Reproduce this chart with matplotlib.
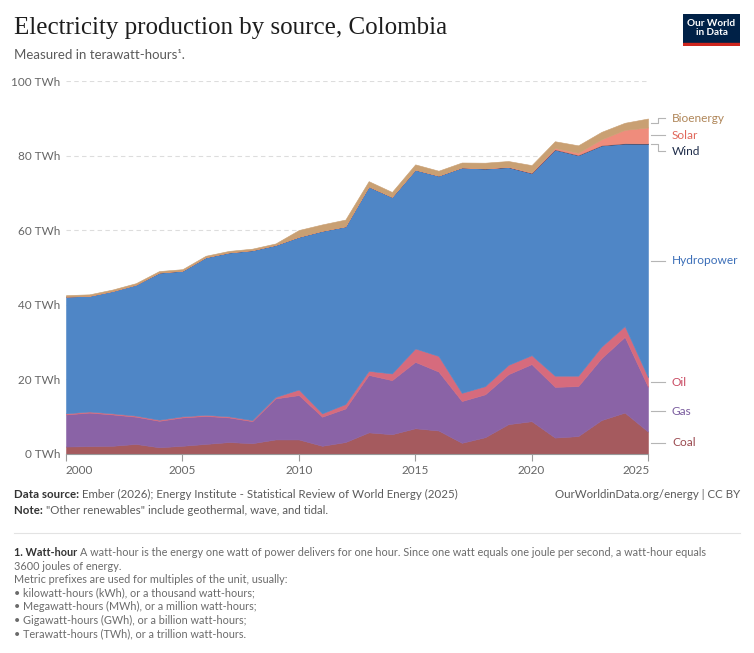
import matplotlib
matplotlib.use("Agg")
import matplotlib.pyplot as plt
import numpy as np
from matplotlib.transforms import ScaledTranslation

# ---------------- data (TWh) ----------------
years = list(range(2000, 2026))
coal = [2.0, 2.1, 2.2, 2.7, 1.8, 2.2, 2.7, 3.2, 2.9, 3.9, 3.9, 2.2, 3.2,
        5.8, 5.3, 6.9, 6.3, 3.0, 4.5, 8.0, 8.8, 4.4, 4.8, 9.1, 11.1, 6.0]
gas = [8.6, 9.0, 8.4, 7.3, 7.1, 7.6, 7.5, 6.6, 5.9, 11.0, 11.9, 7.8, 9.0,
       15.4, 14.5, 17.8, 15.8, 11.2, 11.5, 13.4, 15.3, 13.6, 13.4, 16.6, 20.3, 12.0]
oil = [0.3, 0.3, 0.3, 0.3, 0.3, 0.3, 0.3, 0.3, 0.3, 0.4, 1.5, 0.9, 1.2,
       1.1, 1.8, 3.6, 4.2, 2.2, 2.2, 2.5, 2.4, 3.0, 2.8, 3.1, 2.9, 2.6]
hydro = [31.3, 31.0, 32.8, 35.1, 39.4, 39.0, 42.2, 43.9, 45.5, 40.7, 40.9, 48.9, 47.6,
         49.4, 47.3, 47.9, 48.3, 60.4, 58.3, 53.0, 48.8, 60.6, 59.1, 53.9, 48.9, 62.5]
wind = [0.0, 0.0, 0.0, 0.0, 0.05, 0.05, 0.05, 0.05, 0.05, 0.05, 0.05, 0.05, 0.05,
        0.05, 0.05, 0.05, 0.05, 0.05, 0.05, 0.05, 0.05, 0.05, 0.05, 0.07, 0.1, 0.15]
solar = [0, 0, 0, 0, 0, 0, 0, 0, 0, 0, 0, 0, 0,
         0, 0, 0, 0, 0, 0.05, 0.1, 0.2, 0.4, 0.6, 1.6, 3.6, 4.3]
bioenergy = [0.4, 0.4, 0.4, 0.4, 0.4, 0.4, 0.4, 0.4, 0.4, 0.4, 1.8, 1.7, 1.8,
             1.4, 1.3, 1.4, 1.3, 1.3, 1.5, 1.5, 1.9, 1.8, 2.0, 2.0, 1.9, 2.4]

series_names = ["Coal", "Gas", "Oil", "Hydropower", "Wind", "Solar", "Bioenergy"]
series_values = [coal, gas, oil, hydro, wind, solar, bioenergy]
fill_colors = ["#a55a5e", "#8a63a6", "#d66b7d", "#4f86c6", "#2b3f63", "#ef8c7c", "#c9a073"]
label_colors = ["#9a4a50", "#7a5c9e", "#c94a62", "#3c6fb8", "#1f2d4a", "#e0675a", "#b0875a"]

y_ticks = [0, 20, 40, 60, 80, 100]
y_tick_labels = ["0 TWh", "20 TWh", "40 TWh", "60 TWh", "80 TWh", "100 TWh"]
x_ticks = [2000, 2005, 2010, 2015, 2020, 2025]

# ---------------- figure ----------------
W, H = 754, 653
fig = plt.figure(figsize=(W / 100, H / 100), dpi=100)
plt.rcParams['font.family'] = ['Lato', 'DejaVu Sans']

def fx(x):
    return x / W

def fy(y):
    return 1 - y / H

ax_left, ax_right, ax_top, ax_bottom = 66, 648, 81, 454
ax = fig.add_axes([fx(ax_left), fy(ax_bottom), fx(ax_right - ax_left), (ax_bottom - ax_top) / H])

ax.stackplot(years, *series_values, colors=fill_colors, linewidth=0.4,
             edgecolor="face")
ax.set_xlim(2000, 2025)
ax.set_ylim(0, 100)

for s in ["top", "right", "left"]:
    ax.spines[s].set_visible(False)
ax.spines["bottom"].set_color("#999999")
ax.spines["bottom"].set_linewidth(0.8)

tick_fs = 8.5
ax.set_yticks(y_ticks)
ax.set_yticklabels(y_tick_labels)
ax.tick_params(axis="y", length=0, pad=4, labelsize=tick_fs, labelcolor="#666666")
for t in y_ticks[1:]:
    ax.axhline(t, color="#dddddd", lw=0.8, ls=(0, (4, 3)), zorder=0)
ax.set_axisbelow(True)

ax.set_xticks(x_ticks)
ax.set_xticklabels([str(x) for x in x_ticks])
ax.tick_params(axis="x", length=5, width=0.8, color="#999999", pad=3,
               labelsize=tick_fs, labelcolor="#666666")
ax.get_xticklabels()[0].set_horizontalalignment("left")
ax.get_xticklabels()[-1].set_horizontalalignment("right")
lbl0 = ax.get_xticklabels()[0]
lbl0.set_transform(lbl0.get_transform() + ScaledTranslation(0.0, 0, fig.dpi_scale_trans))
lblN = ax.get_xticklabels()[-1]
lblN.set_transform(lblN.get_transform() + ScaledTranslation(0.02, 0, fig.dpi_scale_trans))

# ---------------- right-hand labels ----------------
last = [v[-1] for v in series_values]
cum = np.cumsum(last)
mids = cum - np.array(last) / 2
label_y = list(mids)
gap = 4.3
label_y[6] = max(label_y[6], cum[-1])
for i in [5, 4]:
    label_y[i] = min(label_y[i], label_y[i + 1] - gap)
label_y[1] -= 0.6

xl = 2025 + (672 - 648) / ((648 - 66) / 25)
for i, name in enumerate(series_names):
    ys, yl = mids[i], label_y[i]
    x0, x1, x2 = 2025.15, 2025.45, 2025.75
    if i >= 4:
        ax.plot([x0, x1, x1, x2], [ys, ys, yl, yl], color="#b5b5b5", lw=0.8, clip_on=False)
    else:
        ax.plot([x0, x2], [yl, yl], color="#b5b5b5", lw=0.8, clip_on=False)
    ax.text(xl, yl, name, color=label_colors[i], fontsize=8.6, va="center",
            ha="left", clip_on=False)

# ---------------- header ----------------
fig.text(fx(14), fy(28), "Electricity production by source, Colombia",
         family=["Liberation Serif", "DejaVu Serif"], fontsize=18, color="#1d1d1d",
         va="center", ha="left")
fig.text(fx(14), fy(55), "Measured in terawatt-hours¹.", fontsize=9.5,
         color="#5b5b5b", va="center", ha="left")

# logo
logo = fig.add_axes([fx(683), fy(46), fx(57), 32 / H])
logo.set_xlim(0, 1); logo.set_ylim(0, 1); logo.axis("off")
logo.add_patch(plt.Rectangle((0, 0.08), 1, 0.92, color="#002147"))
logo.add_patch(plt.Rectangle((0, 0), 1, 0.08, color="#ce261e"))
logo.text(0.5, 0.56, "Our World\nin Data", color="white", fontsize=7.2,
          fontweight="bold", ha="center", va="center", linespacing=0.95)

# ---------------- footer ----------------
fs = 8.3
gray = "#5b5b5b"
dark = "#333333"
t = fig.text(fx(14), fy(494), "Data source: ", fontsize=fs, color=dark,
             fontweight="bold", va="center", ha="left")
fig.canvas.draw()
r = fig.canvas.get_renderer()
bb = t.get_window_extent(r)
fig.text(bb.x1 / W, fy(494), "Ember (2026); Energy Institute - Statistical Review of World Energy (2025)",
         fontsize=fs, color=gray, va="center", ha="left")
fig.text(fx(740), fy(494), "OurWorldinData.org/energy | CC BY", fontsize=fs,
         color=gray, va="center", ha="right")
t2 = fig.text(fx(14), fy(511), "Note: ", fontsize=fs, color=dark, fontweight="bold",
              va="center", ha="left")
bb2 = t2.get_window_extent(r)
fig.text(bb2.x1 / W, fy(511), "\"Other renewables\" include geothermal, wave, and tidal.",
         fontsize=fs, color=gray, va="center", ha="left")

fig.add_artist(plt.Line2D([fx(14), fx(740)], [fy(533), fy(533)], color="#e3e3e3", lw=0.8))

fs2 = 7.85
gray2 = "#6b6b6b"
t3 = fig.text(fx(14), fy(552), "1. Watt-hour ", fontsize=fs2, color=dark, fontweight="bold",
              va="center", ha="left")
bb3 = t3.get_window_extent(r)
fig.text(bb3.x1 / W, fy(552),
         "A watt-hour is the energy one watt of power delivers for one hour. Since one watt equals one joule per second, a watt-hour equals",
         fontsize=fs2, color=gray2, va="center", ha="left")
foot_lines = [
    "3600 joules of energy.",
    "Metric prefixes are used for multiples of the unit, usually:",
    "• kilowatt-hours (kWh), or a thousand watt-hours;",
    "• Megawatt-hours (MWh), or a million watt-hours;",
    "• Gigawatt-hours (GWh), or a billion watt-hours;",
    "• Terawatt-hours (TWh), or a trillion watt-hours.",
]
for k, line in enumerate(foot_lines):
    fig.text(fx(14), fy(566 + 13.5 * k), line, fontsize=fs2, color=gray2, va="center", ha="left")

fig.savefig("out.png", dpi=100)
